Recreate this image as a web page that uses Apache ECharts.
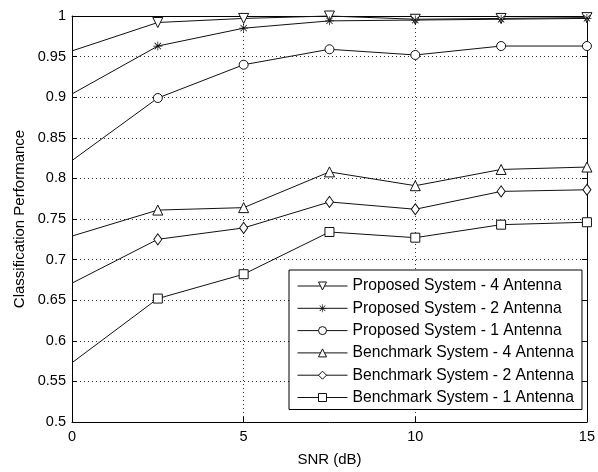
<!DOCTYPE html>
<html>
<head>
<meta charset="utf-8">
<script src="https://cdn.jsdelivr.net/npm/echarts@6/dist/echarts.min.js"></script>
<style>
  html, body { margin: 0; padding: 0; background: #fff; }
  #chart { width: 598px; height: 472px; }
</style>
</head>
<body>
<div id="chart"></div>
<script>
// SNR sample points (dB)
const snr = [0, 2.5, 5, 7.5, 10, 12.5, 15];

// Classification performance per system / antenna count
const proposed4 = [0.957, 0.992, 0.997, 1.0, 0.996, 0.997, 0.998];
const proposed2 = [0.904, 0.963, 0.985, 0.994, 0.995, 0.996, 0.997];
const proposed1 = [0.822, 0.899, 0.940, 0.959, 0.952, 0.963, 0.963];
const benchmark4 = [0.729, 0.761, 0.764, 0.808, 0.791, 0.811, 0.814];
const benchmark2 = [0.671, 0.725, 0.739, 0.771, 0.762, 0.784, 0.786];
const benchmark1 = [0.573, 0.652, 0.682, 0.734, 0.727, 0.743, 0.746];

const seriesNames = [
  'Proposed System - 4 Antenna',
  'Proposed System - 2 Antenna',
  'Proposed System - 1 Antenna',
  'Benchmark System - 4 Antenna',
  'Benchmark System - 2 Antenna',
  'Benchmark System - 1 Antenna'
];

// asterisk marker built from thin bars
const asterisk = 'path://M4.6,0L5.4,0L5.4,10L4.6,10Z' +
  'M0,4.6L10,4.6L10,5.4L0,5.4Z' +
  'M1.2,1.8L1.8,1.2L8.8,8.2L8.2,8.8Z' +
  'M8.2,1.2L8.8,1.8L1.8,8.8L1.2,8.2Z';

const FONT = 'Liberation Sans, Arial, sans-serif';
const INK = '#111';

function pts(values) {
  // the 0 dB point is drawn without a marker
  return values.map((v, i) => i === 0 ? { value: [snr[i], v], symbol: 'none' } : [snr[i], v]);
}

function makeSeries(name, values, symbol, size, rotate, filled) {
  return {
    name: name,
    type: 'line',
    data: pts(values),
    symbol: symbol,
    symbolSize: size,
    symbolRotate: rotate || 0,
    showAllSymbol: true,
    clip: false,
    lineStyle: { color: INK, width: 1 },
    itemStyle: filled
      ? { color: INK, borderWidth: 0 }
      : { color: '#fff', borderColor: INK, borderWidth: 1 },
    emphasis: { disabled: true },
    z: 3
  };
}

const chart = echarts.init(document.getElementById('chart'), null, { renderer: 'canvas' });

const gridDots = { show: true, lineStyle: { color: '#333', width: 1, type: [1, 3] } };
const frame = { show: true, onZero: false, lineStyle: { color: '#000', width: 1 } };
const ticksIn = { show: true, inside: true, length: 5, lineStyle: { color: '#000' } };

chart.setOption({
  animation: false,
  backgroundColor: '#fff',
  textStyle: { fontFamily: FONT, color: '#000' },
  grid: { left: 72, right: 7, top: 16, bottom: 48, containLabel: false },
  legend: {
    orient: 'vertical',
    left: 289,
    top: 270,
    padding: [8, 8, 4, 8],
    itemWidth: 50,
    itemHeight: 10,
    itemGap: 6.3,
    backgroundColor: '#fff',
    borderColor: '#000',
    borderWidth: 1,
    borderRadius: 0,
    lineStyle: { width: 1 },
    itemStyle: { borderWidth: 1 },
    textStyle: { fontFamily: FONT, fontSize: 15.7, lineHeight: 16, color: '#000' },
    data: seriesNames
  },
  xAxis: [
    {
      type: 'value', min: 0, max: 15, interval: 5,
      name: 'SNR (dB)', nameLocation: 'middle', nameGap: 30,
      nameTextStyle: { fontFamily: FONT, fontSize: 15, color: '#000' },
      axisLine: frame,
      axisTick: ticksIn,
      axisLabel: { fontFamily: FONT, fontSize: 14.5, color: '#000', margin: 7 },
      splitLine: gridDots
    },
    {
      type: 'value', min: 0, max: 15, interval: 5, position: 'top',
      axisLine: frame,
      axisTick: ticksIn,
      axisLabel: { show: false },
      splitLine: { show: false }
    }
  ],
  yAxis: [
    {
      type: 'value', min: 0.5, max: 1, interval: 0.05,
      name: 'Classification Performance', nameLocation: 'middle', nameGap: 45,
      nameTextStyle: { fontFamily: FONT, fontSize: 15, color: '#000' },
      axisLine: frame,
      axisTick: ticksIn,
      axisLabel: { fontFamily: FONT, fontSize: 14.5, color: '#000', margin: 6 },
      splitLine: gridDots
    },
    {
      type: 'value', min: 0.5, max: 1, interval: 0.05, position: 'right',
      axisLine: frame,
      axisTick: ticksIn,
      axisLabel: { show: false },
      splitLine: { show: false }
    }
  ],
  series: [
    makeSeries(seriesNames[0], proposed4, 'triangle', 10, 180, false),
    makeSeries(seriesNames[1], proposed2, asterisk, 9, 0, true),
    makeSeries(seriesNames[2], proposed1, 'circle', 9, 0, false),
    makeSeries(seriesNames[3], benchmark4, 'triangle', 10, 0, false),
    makeSeries(seriesNames[4], benchmark2, 'diamond', [8, 11], 0, false),
    makeSeries(seriesNames[5], benchmark1, 'rect', 9, 0, false)
  ]
});
</script>
</body>
</html>
